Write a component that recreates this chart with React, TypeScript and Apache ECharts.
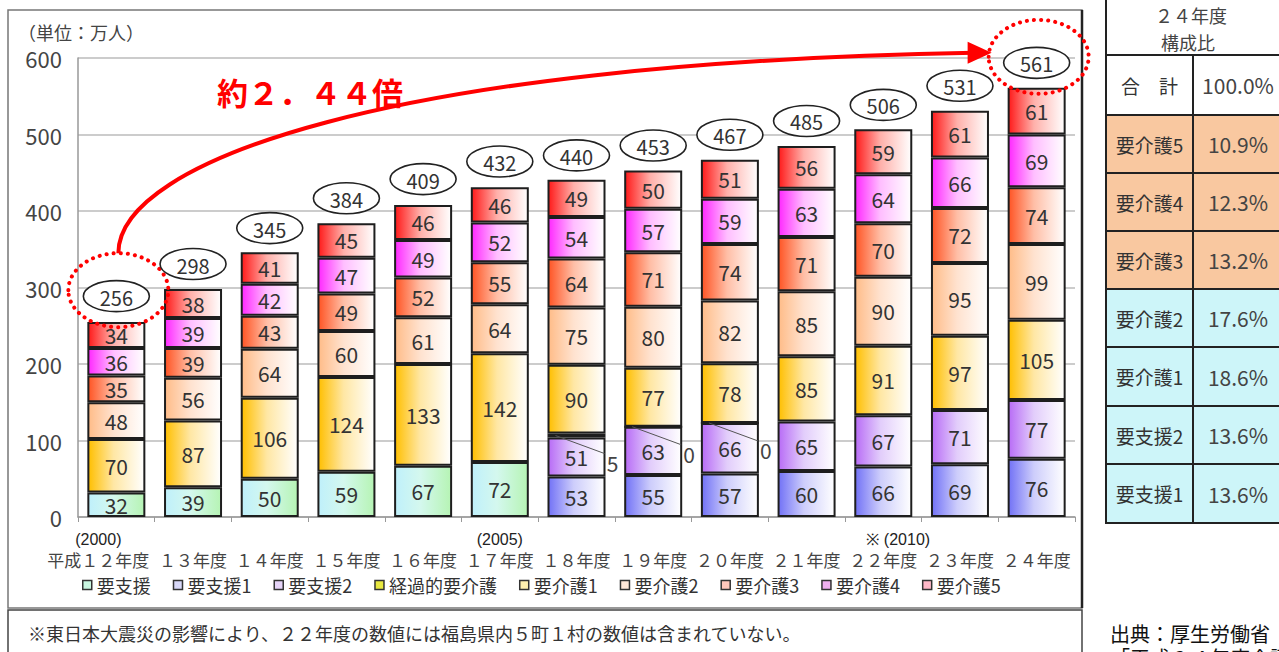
import React, { useEffect, useRef } from 'react';
import * as echarts from 'echarts';

const FONT = "'Noto Sans CJK JP', 'Noto Sans', sans-serif";

const categories = ['平成１２年度', '１３年度', '１４年度', '１５年度', '１６年度', '１７年度', '１８年度', '１９年度', '２０年度', '２１年度', '２２年度', '２３年度', '２４年度'];
const yearNotes = ['(2000)', '', '', '', '', '(2005)', '', '', '', '', '※ (2010)', '', ''];

const seriesNames = ['要支援', '要支援1', '要支援2', '経過的要介護', '要介護1', '要介護2', '要介護3', '要介護4', '要介護5'];
const youshien = [32, 39, 50, 59, 67, 72, null, null, null, null, null, null, null];
const youshien1 = [null, null, null, null, null, null, 53, 55, 57, 60, 66, 69, 76];
const youshien2 = [null, null, null, null, null, null, 51, 63, 66, 65, 67, 71, 77];
const keikateki = [null, null, null, null, null, null, 5, 0, 0, null, null, null, null];
const kaigo1 = [70, 87, 106, 124, 133, 142, 90, 77, 78, 85, 91, 97, 105];
const kaigo2 = [48, 56, 64, 60, 61, 64, 75, 80, 82, 85, 90, 95, 99];
const kaigo3 = [35, 39, 43, 49, 52, 55, 64, 71, 74, 71, 70, 72, 74];
const kaigo4 = [36, 39, 42, 47, 49, 52, 54, 57, 59, 63, 64, 66, 69];
const kaigo5 = [34, 38, 41, 45, 46, 46, 49, 50, 51, 56, 59, 61, 61];
const totals = [256, 298, 345, 384, 409, 432, 440, 453, 467, 485, 506, 531, 561];

const tableHeader = ['２４年度', '構成比'];
const tableLabels = ['合　計', '要介護5', '要介護4', '要介護3', '要介護2', '要介護1', '要支援2', '要支援1'];
const tableValues = ['100.0%', '10.9%', '12.3%', '13.2%', '17.6%', '18.6%', '13.6%', '13.6%'];

const multiplierText = '約２．４４倍';
const unitText = '（単位：万人）';
const noteText = '※東日本大震災の影響により、２２年度の数値には福島県内５町１村の数値は含まれていない。';
const sourceLines = ['出典：厚生労働省', '「平成２４年度介護保険事業状況報告」'];

const seriesData = [youshien, youshien1, youshien2, keikateki, kaigo1, kaigo2, kaigo3, kaigo4, kaigo5];

const gradientStops: string[][] = [
  ['#bff0fb', '#d4f8ee', '#b6f4b4'],
  ['#7272f6', '#cdcdfb', '#ffffff'],
  ['#b86cf6', '#e2cdfb', '#ffffff'],
  ['#c8b400', '#e6dc6a', '#f6f0c0'],
  ['#ffbf00', '#ffe7a4', '#ffffff'],
  ['#ffbc88', '#ffe2cf', '#ffffff'],
  ['#ff5424', '#ffbea6', '#ffffff'],
  ['#ff28ff', '#ffbeff', '#ffffff'],
  ['#ff1a1a', '#ffb0aa', '#ffffff'],
];
const legendColors = ['#c8f6e0', '#d8d8f8', '#e6d4f8', '#e8e840', '#fff0b0', '#ffe8d8', '#ffc8bc', '#f0b0f0', '#ffb8c8'];

export default function App() {
  const ref = useRef<HTMLDivElement>(null);

  useEffect(() => {
    const chart = echarts.init(ref.current!, null, { renderer: 'svg' });

    const barSeries = seriesNames.map((name, i) => ({
      name,
      type: 'bar',
      stack: 'total',
      barWidth: 58,
      data: seriesData[i],
      itemStyle: {
        color: new echarts.graphic.LinearGradient(0, 0, 1, 0, [
          { offset: 0, color: gradientStops[i][0] },
          { offset: 0.45, color: gradientStops[i][1] },
          { offset: 1, color: gradientStops[i][2] },
        ]),
        borderColor: '#1e1e1e',
        borderWidth: 2,
      },
      label: {
        show: name !== '経過的要介護',
        position: 'inside',
        fontSize: 21,
        lineHeight: 22,
        color: '#333',
        fontFamily: FONT,
      },
      emphasis: { disabled: true },
    }));

    const last = totals.length - 1;
    const totalSeries = {
      type: 'custom',
      name: 'totals',
      z: 5,
      data: totals.map((t, i) => [i, t]),
      encode: { x: 0, y: 1 },
      renderItem: (params: any, api: any) => {
        const idx = api.value(0);
        const total = api.value(1);
        const p = api.coord([idx, total]);
        const cx = p[0];
        const cy = p[1] - 25;
        const children: any[] = [
          { type: 'ellipse', shape: { cx, cy, rx: 33, ry: 15.5 }, style: { fill: '#fff', stroke: '#222', lineWidth: 1.6 } },
          {
            type: 'text',
            style: { text: String(total), x: cx, y: cy + 1, align: 'center', verticalAlign: 'middle', fontSize: 20, fill: '#333', fontFamily: FONT },
          },
        ];
        if (idx === 0 || idx === last) {
          children.push({
            type: 'ellipse',
            shape: { cx: cx + 2, cy: cy - 6, rx: 50, ry: 37 },
            style: { fill: 'none', stroke: '#ff0000', lineWidth: 4, lineDash: [0.1, 7], lineCap: 'round' },
          });
        }
        if (idx === 0) {
          const q = api.coord([last, totals[last]]);
          const ex = q[0] - 45;
          const ey = q[1] - 25 - 10;
          const sx = cx + 2;
          const sy = cy - 6 - 37;
          children.push({
            type: 'bezierCurve',
            shape: { x1: sx, y1: sy, cpx1: sx, cpy1: sy - 92, cpx2: sx + 0.31 * (ex - sx), cpy2: ey + 10, x2: ex - 18, y2: ey },
            style: { fill: 'none', stroke: '#ff0000', lineWidth: 4 },
          });
          children.push({
            type: 'polygon',
            shape: { points: [[ex, ey], [ex - 24, ey - 11], [ex - 24, ey + 11]] },
            style: { fill: '#ff0000' },
          });
        }
        return { type: 'group', children };
      },
    };

    const keikaData = keikateki
      .map((v, i) => (v === null ? null : [i, v, (youshien1[i] || 0) + (youshien2[i] || 0)]))
      .filter((d) => d !== null);
    const keikaSeries = {
      type: 'custom',
      name: 'keika',
      z: 5,
      data: keikaData,
      encode: { x: 0, y: 1 },
      renderItem: (params: any, api: any) => {
        const idx = api.value(0);
        const v = api.value(1);
        const base = api.value(2);
        const p = api.coord([idx, base + v / 2]);
        return {
          type: 'group',
          children: [
            { type: 'line', shape: { x1: p[0] - 21, y1: p[1], x2: p[0] + 28, y2: p[1] + 18 }, style: { stroke: '#555', lineWidth: 1 } },
            {
              type: 'text',
              style: { text: String(v), x: p[0] + 36, y: p[1] + 27, align: 'center', verticalAlign: 'middle', fontSize: 21, fill: '#444', fontFamily: FONT },
            },
          ],
        };
      },
    };

    const graphics: any[] = [];
    graphics.push({ type: 'rect', shape: { x: 8, y: 10, width: 1074, height: 598 }, style: { fill: 'none', stroke: '#777', lineWidth: 1.5 }, z: 0 });
    graphics.push({ type: 'line', shape: { x1: 1082, y1: 10, x2: 1082, y2: 608 }, style: { stroke: '#222', lineWidth: 2.5 }, z: 0 });
    graphics.push({ type: 'rect', shape: { x: 8, y: 610, width: 1074, height: 60 }, style: { fill: 'none', stroke: '#444', lineWidth: 1.5 }, z: 0 });
    graphics.push({ type: 'text', style: { text: noteText, x: 28, y: 633, verticalAlign: 'middle', fontSize: 18, fill: '#333', fontFamily: FONT } });
    graphics.push({ type: 'text', style: { text: unitText, x: 18, y: 32, verticalAlign: 'middle', fontSize: 18, fill: '#444', fontFamily: FONT } });
    graphics.push({ type: 'text', style: { text: multiplierText, x: 217, y: 91, verticalAlign: 'middle', fontSize: 31, fontWeight: 'bold', fill: '#ff0000', fontFamily: FONT } });

    const tx0 = 1106, tx1 = 1193, tx2 = 1300;
    const rowTops = [55, 115, 173, 231, 289, 347, 406, 464, 523];
    graphics.push({ type: 'rect', shape: { x: tx0, y: -5, width: tx2 - tx0, height: 60 }, style: { fill: '#fff', stroke: '#222', lineWidth: 2 } });
    graphics.push({ type: 'text', style: { text: tableHeader[0], x: 1191, y: 15, align: 'center', verticalAlign: 'middle', fontSize: 18, fill: '#444', fontFamily: FONT } });
    graphics.push({ type: 'text', style: { text: tableHeader[1], x: 1188, y: 42, align: 'center', verticalAlign: 'middle', fontSize: 18, fill: '#444', fontFamily: FONT } });
    tableLabels.forEach((lab, r) => {
      const y = rowTops[r];
      const h = rowTops[r + 1] - y;
      const fill = r === 0 ? '#ffffff' : r <= 3 ? '#f9c8a0' : '#cdf5f9';
      graphics.push({ type: 'rect', shape: { x: tx0, y, width: tx1 - tx0, height: h }, style: { fill, stroke: '#222', lineWidth: 2 } });
      graphics.push({ type: 'rect', shape: { x: tx1, y, width: tx2 - tx1, height: h }, style: { fill, stroke: '#222', lineWidth: 2 } });
      graphics.push({ type: 'text', style: { text: lab, x: (tx0 + tx1) / 2, y: y + h / 2, align: 'center', verticalAlign: 'middle', fontSize: 19, fill: '#333', fontFamily: FONT } });
      graphics.push({ type: 'text', style: { text: tableValues[r], x: 1238, y: y + h / 2, align: 'center', verticalAlign: 'middle', fontSize: 21, fill: '#444', fontFamily: FONT } });
    });
    graphics.push({ type: 'text', style: { text: sourceLines[0], x: 1110, y: 633, verticalAlign: 'middle', fontSize: 20, fill: '#111', fontFamily: FONT } });
    graphics.push({ type: 'text', style: { text: sourceLines[1], x: 1110, y: 657, verticalAlign: 'middle', fontSize: 20, fill: '#111', fontFamily: FONT } });

    const option: any = {
      animation: false,
      backgroundColor: '#ffffff',
      textStyle: { fontFamily: FONT },
      grid: { left: 78, right: 204, top: 58, bottom: 135, containLabel: false },
      legend: {
        left: 77,
        top: 571,
        icon: 'rect',
        itemWidth: 9,
        itemHeight: 9,
        itemGap: 22,
        selectedMode: false,
        textStyle: { fontSize: 18, color: '#333', fontFamily: FONT },
        data: seriesNames.map((n, i) => ({ name: n, itemStyle: { color: legendColors[i], borderColor: '#333', borderWidth: 1.5 } })),
      },
      xAxis: {
        type: 'category',
        data: categories,
        axisLine: { lineStyle: { color: '#999', width: 1.5 } },
        axisTick: { show: true, length: 5, lineStyle: { color: '#999' } },
        axisLabel: {
          interval: 0,
          margin: 13,
          formatter: (value: string, index: number) => {
            const yr = yearNotes[index];
            if (index === 0) return `{y|${yr}}{sp| }\n{c|${value}}{sp| }`;
            if (yr.startsWith('※')) return `{sp2| }{y|${yr}}\n{c|${value}}`;
            return `{y|${yr || ' '}}\n{c|${value}}`;
          },
          rich: {
            y: { fontSize: 16, lineHeight: 19, color: '#222', fontFamily: "'Liberation Sans Narrow', 'Liberation Sans', sans-serif" },
            c: { fontSize: 17, lineHeight: 20, color: '#444', fontFamily: FONT },
            sp: { width: 36, fontSize: 10, lineHeight: 18 },
            sp2: { width: 30, fontSize: 10, lineHeight: 18 },
          },
        },
      },
      yAxis: {
        type: 'value',
        min: 0,
        max: 600,
        interval: 100,
        axisLine: { show: true, lineStyle: { color: '#999', width: 1.5 } },
        axisTick: { show: false },
        splitLine: { lineStyle: { color: '#bbb', width: 1.5 } },
        axisLabel: { fontSize: 22, color: '#444', margin: 16, fontFamily: FONT },
      },
      series: [...barSeries, totalSeries, keikaSeries],
      graphic: graphics,
    };

    chart.setOption(option);
    return () => chart.dispose();
  }, []);

  return <div ref={ref} style={{ position: 'fixed', left: 0, top: 0, width: 1279, height: 652, background: '#fff' }} />;
}
